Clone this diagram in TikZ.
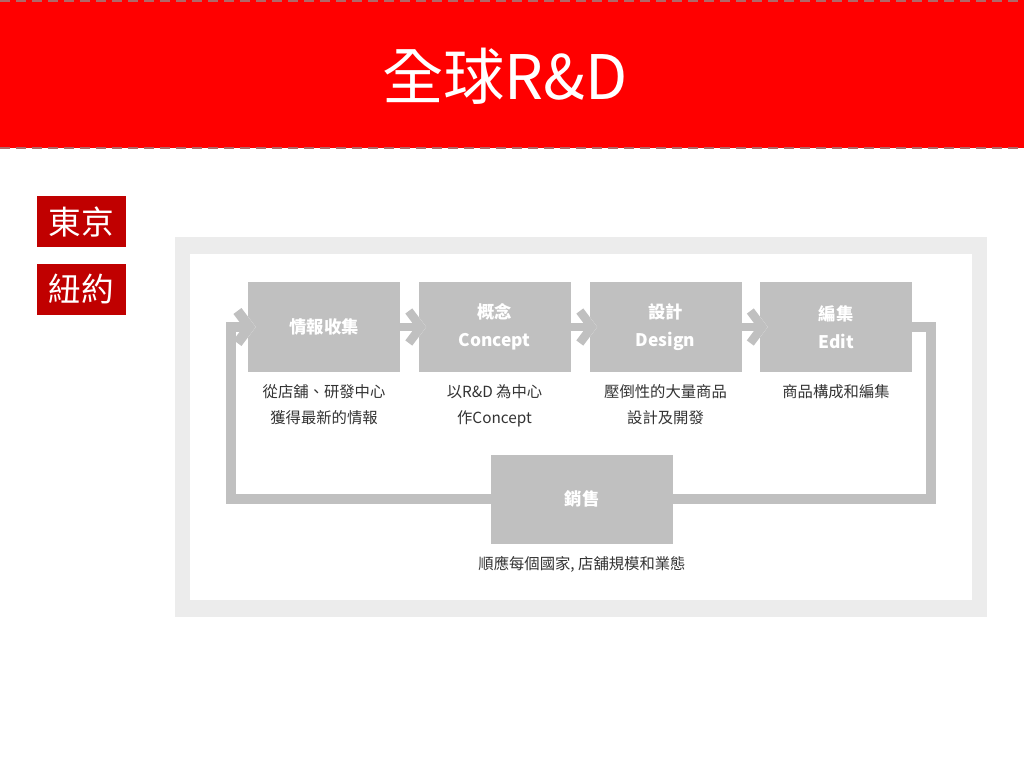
\documentclass[tikz,border=0pt]{standalone}
\usepackage{fontspec}
\setmainfont{Noto Sans CJK TC}
\usepackage{tikz}
\usetikzlibrary{positioning,arrows.meta}

\definecolor{bannerred}{HTML}{FF0000}
\definecolor{tagred}{HTML}{C00000}
\definecolor{dashred}{HTML}{B06868}
\definecolor{boxgray}{HTML}{C0C0C0}
\definecolor{framegray}{HTML}{ECECEC}
\definecolor{notegray}{HTML}{333333}

\begin{document}
\begin{tikzpicture}[x=0.75pt, y=-0.75pt,
    stage/.style={fill=boxgray, text=white, minimum width=114pt, minimum height=67.5pt, inner sep=0pt, align=center, font=\fontsize{13}{21}\selectfont\bfseries},
    note/.style={text=notegray, inner sep=0pt, align=center, font=\fontsize{11.5}{19.5}\selectfont},
    tag/.style={fill=tagred, text=white, minimum width=66.75pt, minimum height=38.25pt, inner sep=0pt, font=\fontsize{24.5}{24.5}\selectfont},
    band/.style={draw=boxgray, line width=6.5pt},
    flow/.style={band, -{Straight Barb[length=9pt,width=24pt]}, shorten >=-6pt, preaction={draw=white, line width=8.5pt}}]

    \useasboundingbox (0,0) rectangle (1024,768);

    % banner
    \path[fill=bannerred] (0,0) rectangle (1024,148);
    \path[draw=dashred, line width=1.5pt, dash pattern=on 7.5pt off 4.5pt] (0,1) -- (1024,1);
    \path[draw=dashred, line width=1.5pt, dash pattern=on 7.5pt off 4.5pt] (0,148) -- (1024,148);
    \node[text=white, inner sep=0pt, font=\fontsize{46}{46}\selectfont] (title) at (505,76) {全球R\&D};

    % city tags
    \node[tag] (tokyo) at (81.5,221.5) {東京};
    \node[tag] (newyork) at (81.5,289) {紐約};

    % frame
    \path[fill=framegray] (175,237) rectangle (987,617);
    \path[fill=white] (190,254) rectangle (972,600);

    \coordinate (eturn) at (931,499);
    \coordinate (wturn) at (231,499);

    \node[stage] (info) at (324,327) {情報收集};
    \node[stage] (concept) at (494.5,327) {概念\\Concept};
    \node[stage] (design) at (665.5,327) {設計\\Design};
    \node[stage] (edit) at (836,327) {編集\\Edit};
    \node[stage, minimum width=136.5pt, minimum height=66.75pt] (sales) at (582,499) {銷售};

    \node[note, below=9pt of info] (infonote) {從店舖、研發中心\\獲得最新的情報};
    \node[note, below=9pt of concept] (conceptnote) {以R\&D 為中心\\作Concept};
    \node[note, below=9pt of design] (designnote) {壓倒性的大量商品\\設計及開發};
    \node[note, below=9pt of edit] (editnote) {商品構成和編集};
    \node[note, below=9pt of sales] (salesnote) {順應每個國家, 店舖規模和業態};

    % loop back
    \draw[band, line width=7.5pt] (edit.east) -| (eturn) -- (sales.east);
    \draw[flow, line width=7.5pt] (sales.west) -- (wturn) |- (info.west);

    \draw[flow] (info.east) -- (concept.west);
    \draw[flow] (concept.east) -- (design.west);
    \draw[flow] (design.east) -- (edit.west);

\end{tikzpicture}
\end{document}
